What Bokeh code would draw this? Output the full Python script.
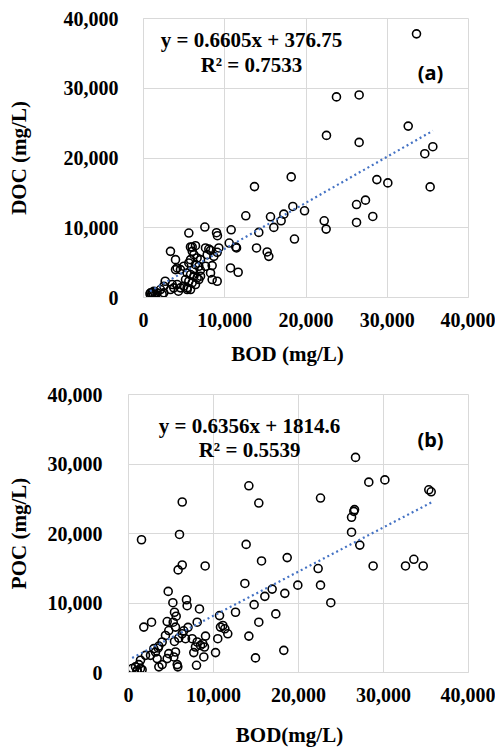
from bokeh.plotting import figure
from bokeh.models import Range1d, FixedTicker, NumeralTickFormatter, Label, LinearAxis
from bokeh.embed import file_html
from bokeh.resources import INLINE

# ---------------- data ----------------
axis_ticks = [0, 10000, 20000, 30000, 40000]

bod_a = [33600, 23750, 26540, 22520, 26540, 32580, 35610, 34620, 28720, 30070,
         35280, 19820, 27320, 26220, 22240, 22480, 26220, 28220, 13660, 18180,
         12590, 15630, 17270, 16940, 18380, 16040, 18580, 14190, 5580, 7550,
         8990, 9100, 10790, 13910, 15220, 15420, 10550, 11360, 11450, 10710,
         11650, 3320, 3940, 5780, 6400, 6000, 6200, 6600, 5790, 5580,
         6400, 6810, 7020, 7630, 8040, 8250, 7840, 8660, 9070, 9270,
         7630, 8450, 8250, 8450, 9070, 5370, 5790, 6200, 6600, 7020,
         5170, 5580, 5990, 6400, 6810, 2670, 3530, 2500, 4140, 4550,
         3730, 4960, 5370, 5790, 2090, 1270, 860, 1000, 1680, 2300,
         3940, 4140, 4960, 4550, 5990, 6200, 7000, 2500, 3320, 5380,
         1200, 4300, 800, 1100, 1500]
doc_a = [37800, 28760, 29040, 23240, 22240, 24570, 21620, 20620, 16900, 16430,
         15860, 12430, 13960, 13330, 11000, 9810, 10760, 11620, 15900, 17290,
         11710, 11570, 11950, 11000, 13050, 10050, 8380, 9330, 9240, 10100,
         9290, 8860, 9710, 7100, 6530, 5900, 7810, 7240, 7100, 4240,
         3620, 6620, 5430, 7240, 7430, 6620, 6140, 5670, 5430, 4950,
         4710, 4480, 5430, 7100, 6950, 6760, 6140, 5900, 6480, 7100,
         4480, 4570, 3520, 2570, 2330, 3520, 3290, 3050, 2810, 3050,
         2570, 2330, 2100, 1860, 2570, 2330, 1860, 1620, 1860, 1380,
         1380, 1620, 1380, 1140, 1140, 900, 670, 450, 670, 430,
         4000, 4240, 4480, 4000, 7240, 4000, 3900, 670, 1140, 1140,
         300, 900, 500, 700, 400]

bod_b = [26710, 28270, 30160, 22590, 35330, 35610, 26590, 26510, 26240, 26240,
         27210, 22310, 28780, 32590, 33570, 34670, 19920, 22590, 23800, 1530,
         6000, 6320, 15330, 14160, 13840, 18670, 15650, 6320, 5840, 9020,
         13690, 16900, 16040, 18390, 14780, 17330, 12590, 10710, 15330, 4670,
         5220, 6820, 6900, 8350, 5410, 5610, 2710, 4550, 1800, 8080,
         5260, 5530, 4740, 10820, 11330, 11100, 11680, 10500, 14160, 6310,
         6710, 5920, 5410, 4350, 3960, 7490, 8080, 8740, 9060, 8940,
         8470, 7880, 7680, 10240, 8860, 8000, 18270, 14940, 5730, 5800,
         5330, 5530, 4740, 4550, 3960, 3570, 3370, 3180, 3490, 3570,
         2980, 2590, 2000, 1410, 1220, 820, 430, 1020, 1410, 1000,
         1600, 6500, 7000]
poc_b = [30950, 27390, 27710, 25100, 26290, 26000, 23430, 23190, 22330, 20190,
         18330, 14960, 15330, 15330, 16290, 15330, 12570, 12570, 10040, 19100,
         19860, 24530, 24380, 26860, 18430, 16530, 16050, 15470, 14760, 15330,
         12810, 12000, 10960, 11390, 9760, 8430, 8670, 8190, 7240, 11670,
         10040, 10470, 9610, 9140, 8670, 8100, 7240, 7330, 6530, 7240,
         7240, 6530, 6040, 6530, 6290, 6760, 5570, 4860, 5240, 5570,
         4860, 4960, 4470, 5330, 4390, 4860, 4390, 4140, 5240, 3670,
         3900, 3670, 2860, 2860, 2240, 1040, 3190, 2100, 1140, 810,
         2240, 2950, 2710, 2000, 1140, 810, 2000, 2950, 3530, 3810,
         3430, 2470, 2470, 1760, 1140, 810, 570, 330, 570, 200,
         400, 6000, 6500]

slope_a, intercept_a, r2_a = 0.6605, 376.75, 0.7533
slope_b, intercept_b, r2_b = 0.6356, 1814.6, 0.5539

SERIF = "Liberation Serif"
SANS = "Noto Sans"
GRID = "#d9d9d9"
FIG_W = 495


def style_axis(ax, size):
    ax.axis_line_color = GRID
    ax.major_tick_line_color = None
    ax.minor_tick_line_color = None
    ax.major_tick_out = 0
    ax.major_tick_in = 0
    ax.minor_tick_out = 0
    ax.minor_tick_in = 0
    ax.major_label_text_font = SERIF
    ax.major_label_text_font_style = "bold"
    ax.major_label_text_font_size = size
    ax.major_label_text_color = "black"


def make_panel(x, y, slope, intercept, eq_text, r2_text, tag, ylabel, xlabel,
               height, b_left, b_top, b_bottom, ylab_standoff, ytick_standoff,
               xtick_standoff, eq_x, eq_y1, eq_y2, tag_x, tag_y, xl_x, xl_standoff):
    p = figure(width=FIG_W, height=height, output_backend="svg", toolbar_location=None,
               x_range=Range1d(0, 40000), y_range=Range1d(0, 40000),
               min_border_left=b_left, min_border_right=27,
               min_border_top=b_top, min_border_bottom=b_bottom)
    p.outline_line_color = GRID
    p.background_fill_color = "white"
    p.border_fill_color = "white"

    for ax in (p.xaxis[0], p.yaxis[0]):
        ax.ticker = FixedTicker(ticks=axis_ticks)
        ax.formatter = NumeralTickFormatter(format="0,0")
        style_axis(ax, "20px")
    p.yaxis.major_label_standoff = ytick_standoff
    p.xaxis.major_label_standoff = xtick_standoff
    p.yaxis.axis_label = ylabel
    p.yaxis.axis_label_text_font = SERIF
    p.yaxis.axis_label_text_font_style = "bold"
    p.yaxis.axis_label_text_font_size = "21px"
    p.yaxis.axis_label_text_color = "black"
    p.yaxis.axis_label_standoff = ylab_standoff

    # x-axis title, placed as a single label below the tick labels
    xt = LinearAxis(ticker=FixedTicker(ticks=[xl_x]),
                    major_label_overrides={xl_x: xlabel})
    style_axis(xt, "21px")
    xt.axis_line_color = None
    xt.major_label_standoff = xl_standoff
    p.add_layout(xt, "below")

    p.xgrid.ticker = FixedTicker(ticks=axis_ticks)
    p.ygrid.ticker = FixedTicker(ticks=axis_ticks)
    p.xgrid.grid_line_color = GRID
    p.ygrid.grid_line_color = GRID

    p.scatter(x, y, marker="circle", size=8, fill_color=None,
              line_color="black", line_width=1.6)

    x0, x1 = min(x), max(x)
    p.line([x0, x1], [slope * x0 + intercept, slope * x1 + intercept],
           line_color="#4472C4", line_width=2.2, line_dash="2 3")

    for txt, yy in ((eq_text, eq_y1), (r2_text, eq_y2)):
        p.add_layout(Label(x=eq_x, y=yy, text=txt, text_font=SERIF,
                           text_font_style="bold", text_font_size="21px",
                           text_align="center", text_baseline="middle",
                           text_color="black"))
    p.add_layout(Label(x=tag_x, y=tag_y, text=tag, text_font=SANS,
                       text_font_style="bold", text_font_size="20px",
                       text_align="center", text_baseline="middle",
                       text_color="black"))
    return p


p1 = make_panel(bod_a, doc_a, slope_a, intercept_a,
                f"y = {slope_a}x + {intercept_a}", f"R\u00b2 = {r2_a}", "(a)",
                "DOC (mg/L)", "BOD (mg/L)",
                height=368, b_left=143, b_top=18, b_bottom=70,
                ylab_standoff=30, ytick_standoff=25, xtick_standoff=15,
                eq_x=13290, eq_y1=36860, eq_y2=33290, tag_x=35320, tag_y=32290,
                xl_x=17720, xl_standoff=12)

p2 = make_panel(bod_b, poc_b, slope_b, intercept_b,
                f"y = {slope_b}x + {intercept_b}", f"R\u00b2 = {r2_b}", "(b)",
                "POC (mg/L)", "BOD(mg/L)",
                height=381, b_left=128, b_top=26, b_bottom=75,
                ylab_standoff=14, ytick_standoff=26, xtick_standoff=15,
                eq_x=14240, eq_y1=35430, eq_y2=32000, tag_x=35530, tag_y=33570,
                xl_x=18940, xl_standoff=18)

open("out.html", "w").write(file_html([p1, p2], INLINE))
